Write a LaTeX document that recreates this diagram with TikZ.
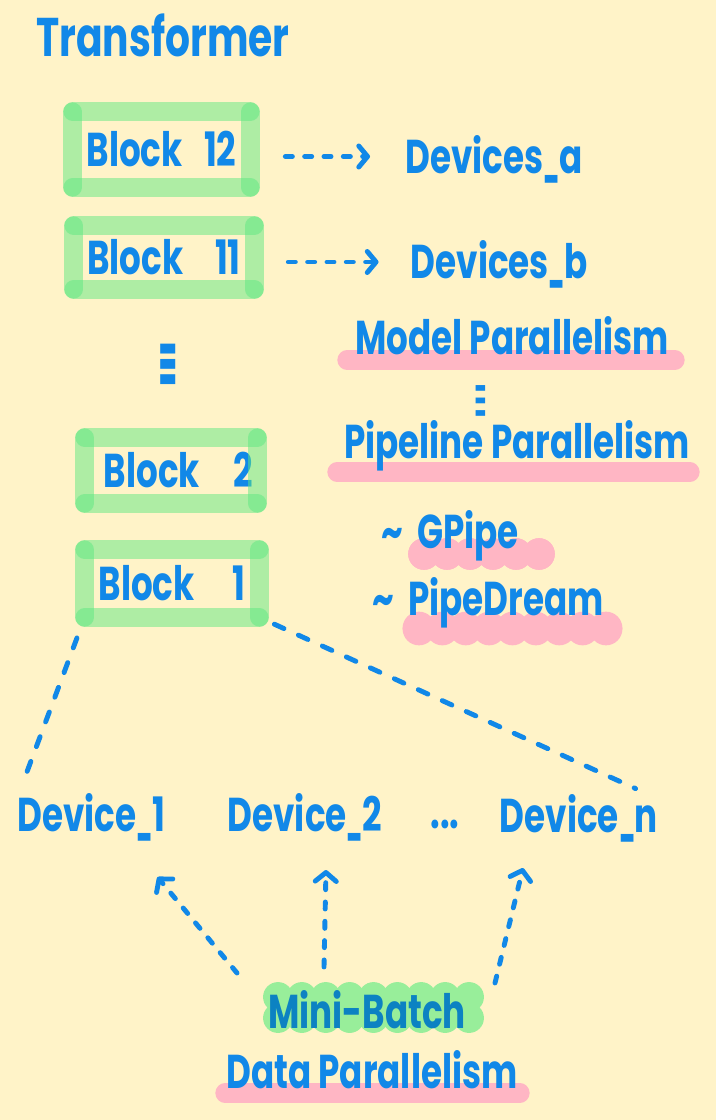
\documentclass[tikz,border=0pt]{standalone}
\usepackage{fontspec}
\setmainfont{Poppins}[FakeStretch=0.72]
\newfontfamily\symfont{DejaVu Sans}
\usetikzlibrary{arrows.meta,backgrounds,calc}
\definecolor{paper}{HTML}{FFF3C8}
\definecolor{inkblue}{HTML}{1188E8}
\definecolor{mbteal}{HTML}{0C82C2}
\definecolor{blockgreen}{HTML}{5EE882}
\definecolor{markpink}{HTML}{FFB6C4}
\definecolor{mbgreen}{HTML}{98EE9A}
\newcommand{\handfont}{\bfseries\fontsize{27}{30}\selectfont}
\newcommand{\us}{\scalebox{0.6}[1]{\_}}
\newcommand{\greenframe}[1]{%
  \draw[framestroke] (#1.north west) -- (#1.north east);
  \draw[framestroke] (#1.south west) -- (#1.south east);
  \draw[framestroke] (#1.north west) -- (#1.south west);
  \draw[framestroke] (#1.north east) -- (#1.south east);
}
\newcommand{\scallopband}[7]{%
  \fill[#6] (#1,#3) rectangle (#2,#4);
  \foreach \k in {0,...,#5} {
    \fill[#6] ({#1+\k*(#2-#1)/#5},#3) circle[radius=#7];
    \fill[#6] ({#1+\k*(#2-#1)/#5},#4) circle[radius=#7];
  }
}

\begin{document}
\begin{tikzpicture}[
		x=0.02cm, y=-0.02cm,
		hand/.style={font=\handfont, text=inkblue, inner sep=0pt, text height=19pt, text depth=0pt},
		glyph/.style={hand, font=\symfont\mdseries\fontsize{27}{30}\selectfont},
		blockbox/.style 2 args={hand, minimum width=#1*0.02cm, minimum height=#2*0.02cm},
		framestroke/.style={blockgreen, line width=10.5pt, line cap=round, opacity=0.5},
		markline/.style={markpink, line width=11pt, line cap=round},
		dashline/.style={inkblue, line width=2.8pt, line cap=round, dash pattern=on 6pt off 9pt},
		dasharrow/.style={inkblue, line width=2.8pt, line cap=round, dash pattern=on 4pt off 7pt,
			-{Straight Barb[length=5pt, width=12pt, line cap=round, line join=round]}},
	]

	\useasboundingbox (0,0) rectangle (716,1120);

	% title
	\node[hand, font=\bfseries\fontsize{31}{34}\selectfont, text height=21.7pt] (title) at (163,37) {Transformer};

	% blocks
	\node[blockbox={177}{75}] (blk12) at (161.5,149.5) {Block\hspace{0.45em}12};
	\node[blockbox={180}{63}] (blk11) at (164,257.5) {Block\hspace{0.67em}11};
	\node[glyph, font=\symfont\bfseries\fontsize{27}{30}\selectfont] (vdots) at (168,366) {\scalebox{1.8}[1.1]{⋮}};
	\node[blockbox={172}{65}] (blk2) at (171,470.5) {\hspace{0.3em}Block\hspace{0.7em}2};
	\node[blockbox={174}{67}] (blk1) at (172,583.5) {Block\hspace{0.8em}1};

	\greenframe{blk12}
	\greenframe{blk11}
	\greenframe{blk2}
	\greenframe{blk1}

	% model parallel side
	\node[hand] (devA) at (494,156.5) {Devices\us a};
	\node[hand] (devB) at (499.5,262) {Devices\us b};
	\node[hand] (model) at (512,338) {Model Parallelism};
	\node[glyph] (equiv) at (481,406) {\scalebox{0.32}[1.45]{≡}};
	\node[hand] (pipe) at (517,442) {Pipeline Parallelism};
	\node[hand] (gpipe) at (450,532) {\textasciitilde\hspace{0.3em}GPipe};
	\node[hand] (dream) at (488,599) {\textasciitilde\hspace{0.3em}PipeDream};

	% data parallel side
	\node[hand] (dev1) at (91.5,815) {Device\us 1};
	\node[hand] (dev2) at (305,815) {Device\us 2};
	\node[hand] (more) at (445,812) {...};
	\node[hand] (devn) at (579,816) {Device\us n};
	\node[hand, text=mbteal] (mb) at (367,1012) {Mini-Batch};
	\node[hand] (data) at (372,1072) {Data Parallelism};

	% paper and highlights
	\begin{scope}[on background layer]
		\fill[paper] (0,0) rectangle (716,1120);
		\draw[markline] (347,360) -- (675,360);
		\draw[markline] (337,472) -- (690,472);
		\draw[markline] (225,1093) -- (520,1093);
		\scallopband{424}{539}{554}{554}{5}{markpink}{9pt}
		\scallopband{419}{606}{628}{629}{8}{markpink}{9.3pt}
		\scallopband{278}{469}{997}{1018}{8}{mbgreen}{8.5pt}
	\end{scope}

	% block -> devices
	\draw[dasharrow, shorten <=0.7cm, shorten >=0.7cm] (blk12.east |- devA.west) -- (devA.west);
	\draw[dasharrow, shorten <=0.68cm, shorten >=0.64cm] (blk11.east |- devB.west) -- (devB.west);

	% block 1 spread over devices
	\draw[dashline, shorten <=0.44cm, shorten >=0.42cm] (blk1.south west) -- (dev1.north west);
	\draw[dashline, shorten <=0.33cm, shorten >=0.5cm] (blk1.south east) -- (devn.north east);

	% mini-batch -> devices
	\draw[dasharrow] ($(mb.north)+(-130,-22)$) -- ($(dev1.south)+(66,45)$);
	\draw[dasharrow] ($(mb.north)+(-43,-28)$) -- ($(dev2.south)+(21,38)$);
	\draw[dasharrow] ($(mb.north)+(128,-12)$) -- ($(devn.south)+(-56,35)$);

\end{tikzpicture}
\end{document}
